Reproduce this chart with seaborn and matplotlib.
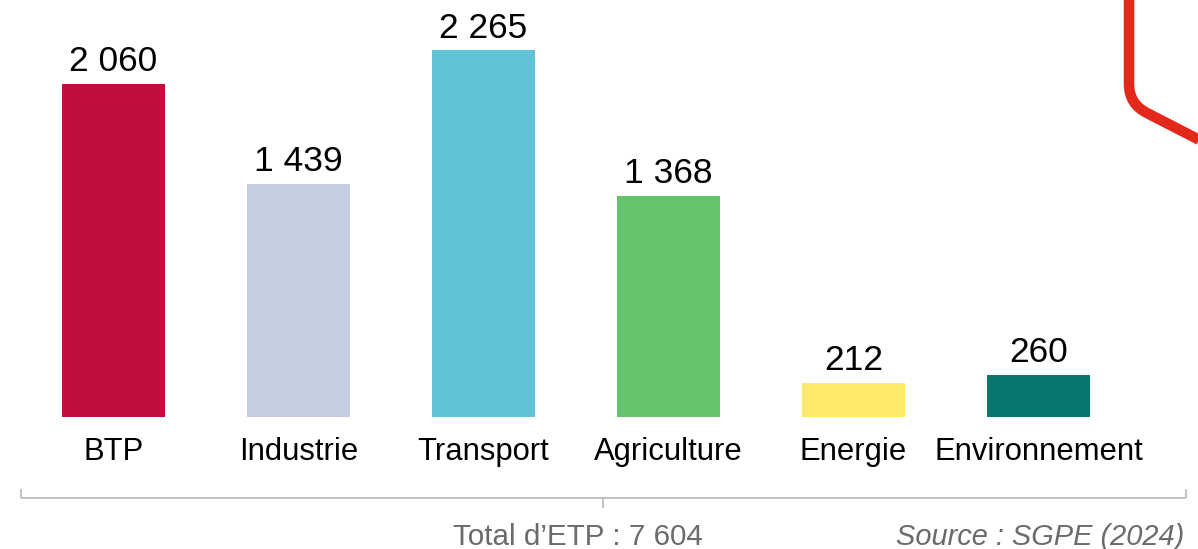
import matplotlib
matplotlib.use("Agg")
import matplotlib.pyplot as plt
import seaborn as sns
import pandas as pd
from matplotlib.path import Path
from matplotlib.patches import PathPatch
from matplotlib.lines import Line2D

categories = ["BTP", "Industrie", "Transport", "Agriculture", "Energie", "Environnement"]
values = [2060, 1439, 2265, 1368, 212, 260]
colors = ["#C20E3C", "#C4CEE0", "#63C3D6", "#64C46E", "#FEE96A", "#077870"]
total_label = "Total d\u2019ETP : 7 604"
source_label = "Source : SGPE (2024)"

sns.set_theme(style="white")
plt.rcParams["font.family"] = ["Liberation Sans", "DejaVu Sans"]

W, H = 1198, 549
fig = plt.figure(figsize=(W / 100, H / 100), dpi=100)
ax = fig.add_axes([21 / W, (H - 417) / H, 1110 / W, 417 / H])

df = pd.DataFrame({"cat": categories, "val": values})
sns.barplot(data=df, x="cat", y="val", hue="cat", palette=colors,
            legend=False, width=0.557, saturation=1, linewidth=0, ax=ax)
ax.set_xlim(-0.5, 5.5)
ax.set_ylim(0, 2577)
ax.set_xlabel("")
ax.set_ylabel("")
ax.set_xticks([])
ax.set_yticks([])
for s in ax.spines.values():
    s.set_visible(False)

def fr(v):
    return f"{v:,}".replace(",", " ")

for i, v in enumerate(values):
    ax.annotate(fr(v), xy=(i, v), xytext=(0, 9.3), textcoords="offset points",
                ha="center", va="baseline", fontsize=25.5, color="black",
                annotation_clip=False)
    ax.annotate(categories[i], xy=(i, 0), xytext=(0, -31), textcoords="offset points",
                ha="center", va="baseline", fontsize=22.3, color="black",
                annotation_clip=False)

def fx(x):
    return x / W

def fy(y):
    return 1 - y / H

# bracket
gray = "#BDBDBD"
for xs, ys in [((20.7, 20.7), (489, 498)), ((20.7, 1186), (498, 498)),
               ((1186, 1186), (489, 498)), ((603, 603), (498, 508))]:
    fig.add_artist(Line2D([fx(x) for x in xs], [fy(y) for y in ys],
                          transform=fig.transFigure, color=gray, lw=1.3,
                          solid_capstyle="butt"))

fig.text(fx(453), fy(545), total_label, ha="left", va="baseline",
         fontsize=21.3, color="#6B6B6B")
fig.text(fx(1184), fy(545), source_label, ha="right", va="baseline",
         fontsize=20.9, color="#6B6B6B", style="italic")

# decorative red line
verts = [(1129, -10), (1129, 84), (1129, 104), (1147, 113), (1215, 148)]
codes = [Path.MOVETO, Path.LINETO, Path.CURVE3, Path.CURVE3, Path.LINETO]
path = Path([(fx(x), fy(y)) for x, y in verts], codes)
fig.add_artist(PathPatch(path, transform=fig.transFigure, fill=False,
                         edgecolor="#E3281C", lw=7.6, capstyle="butt",
                         joinstyle="round", clip_on=False))

fig.savefig("out.png", dpi=100)
